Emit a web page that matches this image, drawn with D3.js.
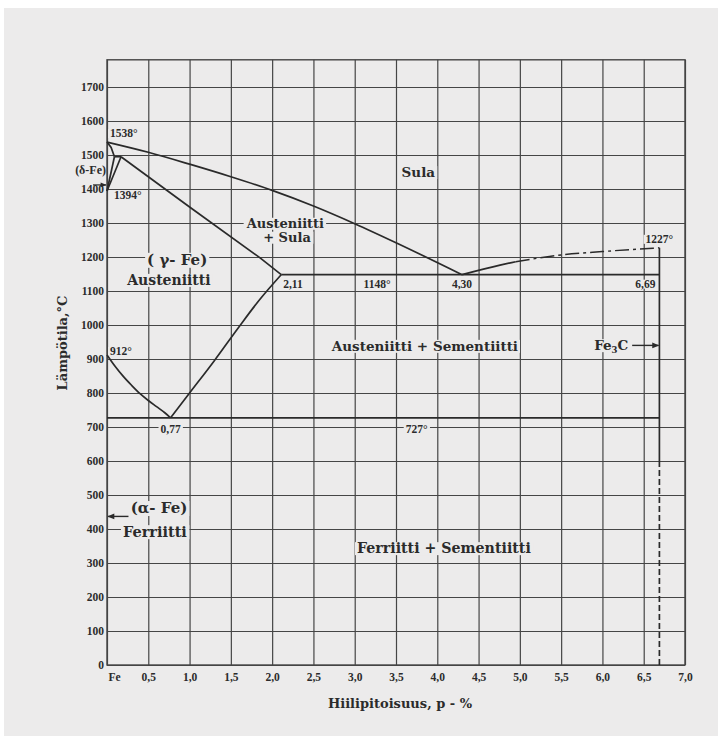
<!DOCTYPE html>
<html>
<head>
<meta charset="utf-8">
<script src="https://cdn.jsdelivr.net/npm/d3@7"></script>
<style>
  html, body { margin: 0; padding: 0; background: #fff; }
  svg { display: block; }
  text { font-family: "Liberation Serif", "DejaVu Serif", serif; font-weight: bold; fill: #2b2b2b; }
  .big { font-family: "DejaVu Serif", serif; font-weight: bold; }
</style>
</head>
<body>
<svg id="chart" width="718" height="736"></svg>
<script>
// Fe–C phase diagram (rauta–hiili tasapainopiirros)

// axis ticks
const xTicks = [0, 0.5, 1.0, 1.5, 2.0, 2.5, 3.0, 3.5, 4.0, 4.5, 5.0, 5.5, 6.0, 6.5, 7.0];
const xTickLabels = ["Fe", "0,5", "1,0", "1,5", "2,0", "2,5", "3,0", "3,5", "4,0", "4,5", "5,0", "5,5", "6,0", "6,5", "7,0"];
const yTicks = [0, 100, 200, 300, 400, 500, 600, 700, 800, 900, 1000, 1100, 1200, 1300, 1400, 1500, 1600, 1700];
const yTop = 1780;

// phase boundaries: [carbon %, temperature °C]
const liquidus = [[0, 1538], [0.5, 1508], [1.0, 1473], [1.5, 1436], [2.0, 1396], [2.5, 1350], [3.0, 1298], [3.5, 1242], [4.3, 1148]];
const liquidusCementite = [[4.3, 1148], [4.76, 1176], [4.95, 1186]];
const liquidusCementiteDashed = [[4.95, 1186], [5.5, 1206], [6.0, 1216], [6.69, 1227]];
const deltaSolidus = [[0, 1538], [0.05, 1522], [0.09, 1495]];
const deltaGamma1 = [[0.09, 1495], [0, 1394]];
const deltaGamma2 = [[0.17, 1495], [0, 1394]];
const peritectic = [[0.09, 1495], [0.17, 1495]];
const solidus = [[0.17, 1495], [1.0, 1347], [1.85, 1198], [2.11, 1148]];
const a3 = [[0, 912], [0.1, 878], [0.2, 848], [0.3, 822], [0.4, 798], [0.5, 778], [0.6, 760], [0.7, 742], [0.77, 727]];
const acm = [[0.77, 727], [1.0, 800], [1.3, 895], [1.6, 995], [1.85, 1075], [2.11, 1148]];
const eutectic = [[2.11, 1148], [6.69, 1148]];
const eutectoid = [[0, 727], [6.69, 727]];
const cementiteSolid = [[6.69, 1227], [6.69, 600]];
const cementiteDashed = [[6.69, 600], [6.69, 0]];

// point labels: [text, carbon %, temperature °C, anchor, dx, dy]
const pointLabels = [
  ["1538°", 0, 1538, "start", 3, -5],
  ["1394°", 0, 1394, "start", 7, 8],
  ["912°", 0, 912, "start", 3, 0],
  ["0,77", 0.77, 727, "middle", 0, 15],
  ["727°", 3.75, 727, "middle", 0, 15],
  ["2,11", 2.11, 1148, "start", 2, 13],
  ["1148°", 3.27, 1148, "middle", 0, 13],
  ["4,30", 4.3, 1148, "middle", 0, 13],
  ["6,69", 6.69, 1148, "end", -4, 13],
  ["1227°", 6.69, 1227, "middle", 0, -5]
];

// phase region labels: [text, carbon %, temperature °C, size]
const regionLabels = [
  ["Sula", 3.77, 1435, 13.5],
  ["Austeniitti", 2.16, 1286, 13],
  ["+ Sula", 2.18, 1245, 13],
  ["( γ- Fe)", 0.85, 1177, 15],
  ["Austeniitti", 0.75, 1118, 14],
  ["Austeniitti + Sementiitti", 3.85, 924, 13.5],
  ["Ferriitti + Sementiitti", 4.08, 329, 14.2],
  ["(α- Fe)", 0.63, 447, 15],
  ["Ferriitti", 0.58, 376, 14.5]
];

const svg = d3.select("#chart");
const paper = "#ecebeb";
svg.append("rect").attr("x", 4).attr("y", 8).attr("width", 714).attr("height", 728).attr("fill", paper);

const x = d3.scaleLinear().domain([0, 7]).range([107, 685]);
const y = d3.scaleLinear().domain([0, yTop]).range([665, 665 - yTop * 0.34]);

const gridColor = "#454545";
const lineColor = "#2a2a2a";

// horizontal grid + temperature labels
const yAxis = d3.axisLeft(y).tickValues(yTicks).tickSize(-(x(7) - x(0))).tickPadding(3).tickFormat(d3.format("d"));
const gy = svg.append("g").attr("transform", `translate(${x(0)},0)`).call(yAxis);
gy.select(".domain").remove();
gy.selectAll(".tick line").attr("stroke", gridColor).attr("stroke-width", 1.2);
gy.selectAll(".tick text").attr("font-size", 11.5).attr("fill", "#333").attr("font-family", "Liberation Serif").attr("font-weight", "bold");

// vertical grid + carbon labels
const xAxis = d3.axisBottom(x).tickValues(xTicks).tickSize(-(y(0) - y(yTop))).tickPadding(8).tickFormat((d, i) => xTickLabels[i]);
const gx = svg.append("g").attr("transform", `translate(0,${y(0)})`).call(xAxis);
gx.select(".domain").remove();
gx.selectAll(".tick line").attr("stroke", gridColor).attr("stroke-width", 1.2);
gx.selectAll(".tick text").attr("font-size", 11.5).attr("fill", "#333").attr("font-family", "Liberation Serif").attr("font-weight", "bold");
gx.selectAll(".tick text").filter(d => d === 0).attr("dx", 7);

// frame
svg.append("rect").attr("x", x(0)).attr("y", y(yTop)).attr("width", x(7) - x(0)).attr("height", y(0) - y(yTop))
  .attr("fill", "none").attr("stroke", gridColor).attr("stroke-width", 1.4);

// labels with paper-coloured backing
const labelLayer = svg.append("g");
function backedText(txt, px, py, size, anchor, cls) {
  const t = labelLayer.append("text").attr("x", px).attr("y", py).attr("font-size", size).attr("text-anchor", anchor).text(txt);
  if (cls) t.attr("class", cls);
  const b = t.node().getBBox();
  labelLayer.insert("rect", () => t.node()).attr("x", b.x - 2).attr("y", b.y + 2).attr("width", b.width + 4).attr("height", b.height - 3).attr("fill", paper);
  return t;
}
regionLabels.forEach(([t, c, temp, s]) => backedText(t, x(c), y(temp), s, "middle", "big"));

// phase boundary lines
const smooth = d3.line().x(d => x(d[0])).y(d => y(d[1])).curve(d3.curveMonotoneX);
const straight = d3.line().x(d => x(d[0])).y(d => y(d[1]));
const lines = svg.append("g").attr("fill", "none").attr("stroke", lineColor).attr("stroke-width", 1.7);
[liquidus, liquidusCementite, a3, acm].forEach(p => lines.append("path").attr("d", smooth(p)));
[deltaSolidus, deltaGamma1, deltaGamma2, peritectic, solidus, eutectic, eutectoid, cementiteSolid]
  .forEach(p => lines.append("path").attr("d", straight(p)));
lines.append("path").attr("d", smooth(liquidusCementiteDashed)).attr("stroke-dasharray", "14,4,3,4").attr("stroke-width", 1.4);
lines.append("path").attr("d", straight(cementiteDashed)).attr("stroke-dasharray", "6,3").attr("stroke-width", 1.7);

// point labels
pointLabels.forEach(([t, c, temp, anchor, dx, dy]) => backedText(t, x(c) + dx, y(temp) + dy, 11.5, anchor));

// arrows
svg.append("defs").append("marker").attr("id", "ah").attr("viewBox", "0 0 10 10").attr("refX", 9).attr("refY", 5)
  .attr("markerWidth", 6).attr("markerHeight", 5).attr("orient", "auto")
  .append("path").attr("d", "M0,1 L10,5 L0,9 Z").attr("fill", lineColor);

// δ-Fe
svg.append("text").attr("x", x(0) - 1).attr("y", y(1445)).attr("text-anchor", "end").attr("font-size", 12).text("(δ-Fe)");
svg.append("line").attr("x1", x(0) - 14).attr("x2", x(0) - 1).attr("y1", y(1412)).attr("y2", y(1412))
  .attr("stroke", lineColor).attr("stroke-width", 1.2).attr("marker-end", "url(#ah)");

// α-Fe arrow
svg.append("line").attr("x1", x(0.26)).attr("x2", x(0) + 1).attr("y1", y(437)).attr("y2", y(437))
  .attr("stroke", lineColor).attr("stroke-width", 1.4).attr("marker-end", "url(#ah)");

// Fe3C
const fe = backedText("Fe", x(5.9), y(926), 13.5, "start", "big");
fe.append("tspan").attr("font-size", 8.5).attr("dy", 3).text("3");
fe.append("tspan").attr("dy", -3).text("C");
svg.append("line").attr("x1", x(6.36)).attr("x2", x(6.68)).attr("y1", y(940)).attr("y2", y(940))
  .attr("stroke", lineColor).attr("stroke-width", 1.4).attr("marker-end", "url(#ah)");

// axis titles
svg.append("text").attr("class", "big").attr("x", 400).attr("y", 708).attr("text-anchor", "middle").attr("font-size", 13).text("Hiilipitoisuus, p - %");
svg.append("text").attr("class", "big").attr("transform", "translate(67,343) rotate(-90)").attr("text-anchor", "middle").attr("font-size", 13).text("Lämpötila,°C");
</script>
</body>
</html>
